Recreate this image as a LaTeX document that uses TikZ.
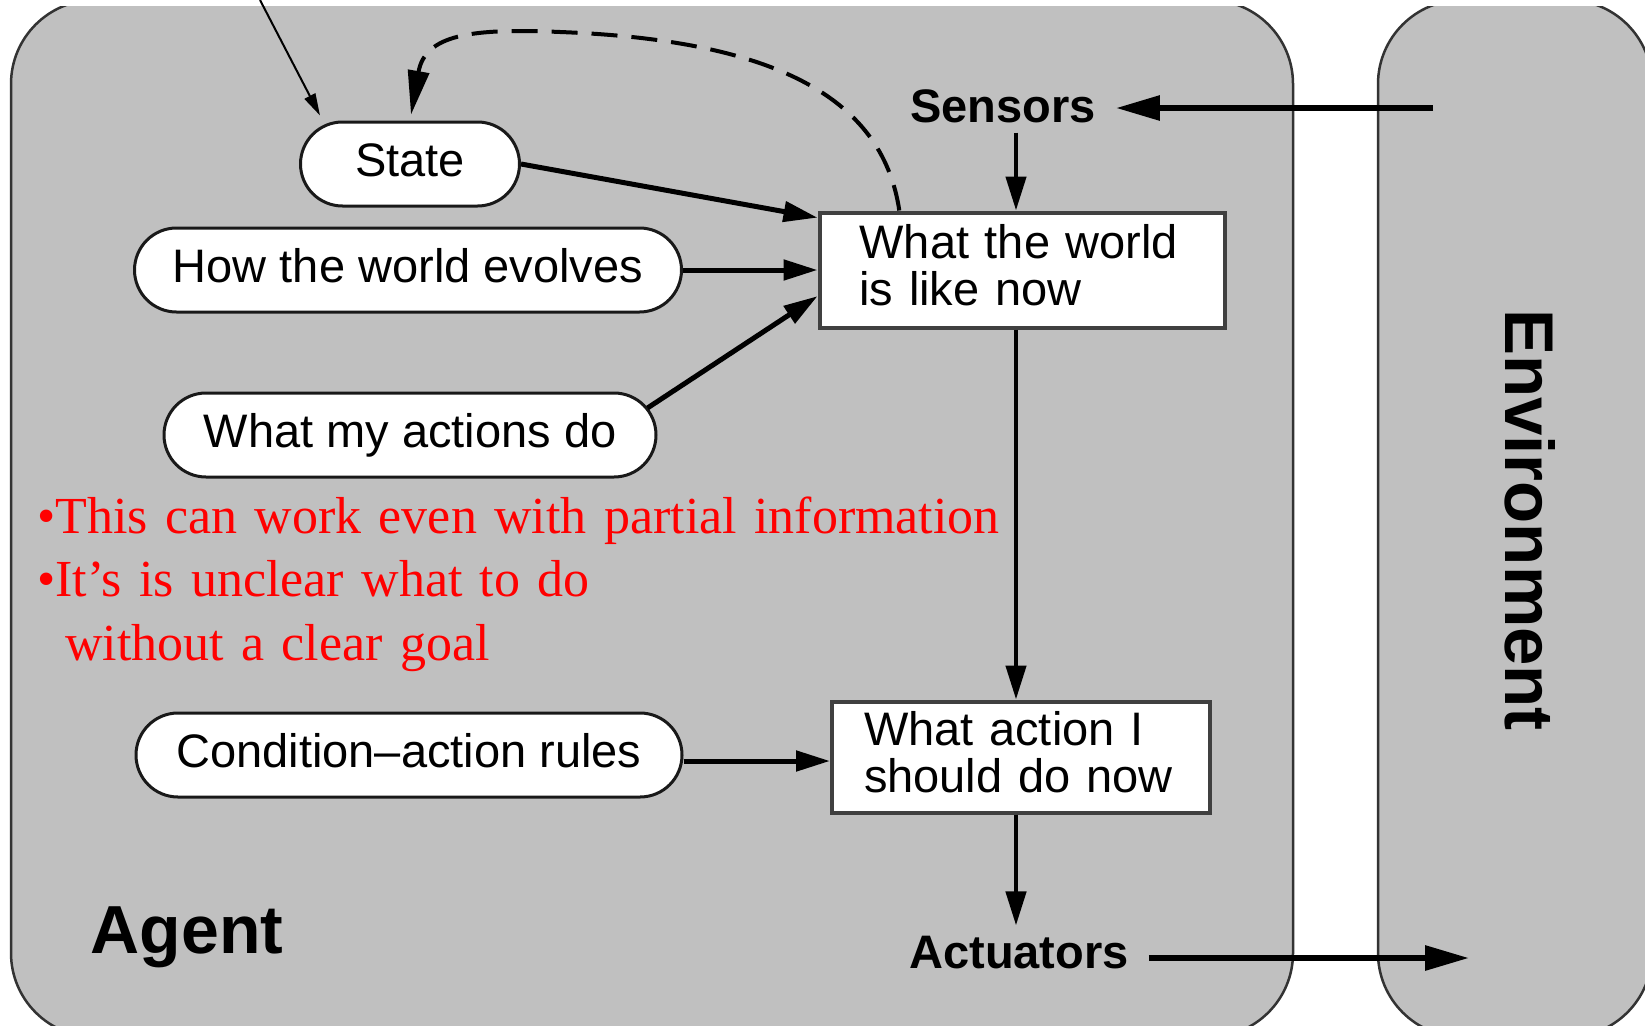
\documentclass[tikz,border=0pt]{standalone}
\usepackage{fontspec}
\setmainfont{Liberation Serif}
\setsansfont{Liberation Sans}
\usetikzlibrary{arrows, arrows.meta}
\usetikzlibrary{positioning}
\usetikzlibrary{calc}
\definecolor{agentgray}{RGB}{192,192,192}
\definecolor{notered}{RGB}{255,0,0}

\tikzset{
  frame/.style={fill=agentgray, draw=black!80, line width=2.5pt, rounded corners=84pt},
  rulebox/.style={draw=black!90, line width=3pt, fill=white, rounded corners=42pt, minimum height=84pt, inner sep=0pt, text height=34pt, text depth=10pt, font=\sffamily\fontsize{47}{47}\selectfont},
  worldbox/.style={draw=black!75, line width=4pt, fill=white, align=left, inner ysep=0pt, text height=34pt, text depth=57pt, font=\sffamily\fontsize{47}{47}\selectfont},
  io/.style={font=\sffamily\bfseries\fontsize{47}{47}\selectfont, inner xsep=20pt, inner ysep=10pt},
  flow/.style={->, line width=5pt},
}

\begin{document}
\begin{tikzpicture}[x=1pt, y=-1pt, >={Triangle[length=34pt,width=20pt]}]
	\useasboundingbox (0,0) rectangle (1645,1025);
	%agent and environment
	\begin{scope}
		\clip (0,7) rectangle (1645,1025);
		\draw[frame] (11,0) rectangle (1293,1037);
		\draw[frame] (1378,0) rectangle (1652,1037);
	\end{scope}
	
	% knowledge on the left
	\node[rulebox, minimum width=219pt] (state) at (410,164) {State};
	\node[rulebox, minimum width=547pt] (evolves) at (408,270) {How the world evolves};
	\node[rulebox, minimum width=492pt] (actions) at (410,435) {What my actions do};
	\node[rulebox, minimum width=546pt] (rules) at (409,755) {Condition–action rules};
	
	% boxes
	\node[worldbox, text width=325pt, inner xsep=40pt, minimum height=115pt] (world) at (1022,270) {What the world\\is like now};
	\node[worldbox, text width=314pt, inner xsep=32pt, minimum height=111pt] (act) at (1021,757) {What action I\\should do now};
	
	% labels
	\node[io, anchor=base] (sensors) at (1003,122) {Sensors};
	\node[io, anchor=base] (actuators) at (1019,968) {Actuators};
	\node[font=\sffamily\bfseries\fontsize{68}{68}\selectfont, anchor=base] (agent) at (187,953) {Agent};
	\node[font=\sffamily\bfseries\fontsize{69}{69}\selectfont, anchor=base, rotate=-90] (environment) at (1505,520) {Environment};
	\node[anchor=base west, text width=1000pt, align=left, inner sep=0pt, text=notered, font=\fontsize{52}{63.5}\selectfont] (remark) at (37,533) {•This can work even with partial information\\•It’s is unclear what to do\\\hspace*{28pt}without a clear goal};
	
	% free ends
	\coordinate (memory) at (260,0);
	\coordinate (envin) at (1433,108);
	\coordinate (envout) at (1469,958);
	\coordinate (spine) at (1016,0);
	
	% add arrows
	\draw[->, line width=2pt, >={Triangle[length=22pt,width=12pt]}] (memory) -- ($(state.north west)+(21,-5)$);
	\draw[->, line width=4pt, dash pattern=on 26pt off 14pt, >={Triangle[length=44pt,width=21pt]}, shorten >=6pt]
		($(world.north west)!0.2!(world.north east)$) .. controls (882,95) and (770,40) .. (560,32)
		.. controls (470,28) and (425,35) .. (state.north);
	\draw[flow] (state.east) -- ($(world.north west)!0.06!(world.south west)$);
	\draw[flow] (evolves.east) -- (evolves.east -| world.west);
	\draw[flow] ($(actions.east)+(-10,-27)$) -- ($(world.north west)!0.72!(world.south west)$);
	\draw[flow] ($(rules.east)+(0,6)$) -- ($(rules.east -| act.west)+(0,6)$);
	\draw[->, line width=4.5pt] (sensors.south -| spine) -- (world.north -| spine);
	\draw[->, line width=4.5pt] (world.south -| spine) -- (act.north -| spine);
	\draw[->, line width=4.5pt] (act.south -| spine) -- (actuators.north -| spine);
	\draw[->, line width=6pt, >={Triangle[length=44pt,width=24pt]}] (envin) -- (envin -| sensors.east);
	\draw[->, line width=6pt, >={Triangle[length=44pt,width=24pt]}] (envout -| actuators.east) -- (envout);
\end{tikzpicture}
\end{document}
